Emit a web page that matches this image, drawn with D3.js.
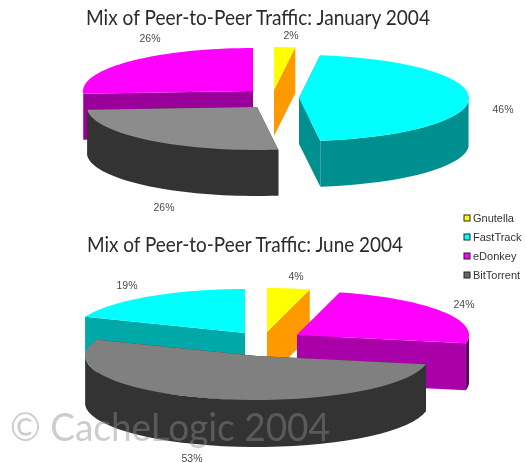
<!DOCTYPE html>
<html lang="en">
	<head>
		<meta charset="utf-8">
		<title>Mix of Peer-to-Peer Traffic</title>
		<script type="text/javascript" src="https://d3js.org/d3.v7.min.js"></script>
		<style type="text/css">
			html, body { margin:0; padding:0; background:#fff; }
			svg { display:block; filter:blur(0.4px); }
			.title { font-family:Lato, sans-serif; font-size:20.5px; fill:#2b2b2b; }
			.pct { font-family:"Liberation Sans", sans-serif; font-size:10.5px; fill:#4a4a4a; text-anchor:middle; }
			.legend text { font-family:"Liberation Sans", sans-serif; font-size:11px; fill:#333; }
			.mark { font-family:Lato, sans-serif; font-size:39px; fill:#8d8d8d; opacity:0.44; }
		</style>
	</head>
	<body>
		<svg id="chart"></svg>
		<script type="text/javascript">
			var w=526;
			var h=463;

			// data. slices run clockwise from 12 o'clock
			var legendNames=["Gnutella","FastTrack","eDonkey","BitTorrent"];
			var janNames=["Gnutella","FastTrack","BitTorrent","eDonkey"];
			var janValues=[2,46,26,26];
			var junNames=["Gnutella","eDonkey","BitTorrent","FastTrack"];
			var junValues=[4,24,53,19];

			var topColor=d3.scaleOrdinal()
				.domain(legendNames)
				.range(["#ffff00","#00ffff","#ff00ff","#8c8c8c"]);
			var legendColor=d3.scaleOrdinal()
				.domain(legendNames)
				.range(["#ffff00","#00ffff","#ff00ff","#666666"]);

			// layout of the two pies: each slice's apex, label spot and side colours
			var janPie={
				title:"Mix of Peer-to-Peer Traffic: January 2004", titleX:86, titleY:25, titleW:344,
				rx:170, ry:43, depth:46,
				names:janNames, values:janValues,
				drawOrder:["eDonkey","BitTorrent","Gnutella","FastTrack"],
				apex:{Gnutella:[274,90],FastTrack:[299,98],BitTorrent:[257,107],eDonkey:[253,91]},
				label:{Gnutella:[291,39],FastTrack:[503,113],BitTorrent:[164,211],eDonkey:[150,42]},
				cut:{Gnutella:"#ff9900",FastTrack:"#008f8f",BitTorrent:"#333333",eDonkey:"#990099"},
				rim:{Gnutella:"#ff9900",FastTrack:"#008f8f",BitTorrent:"#333333",eDonkey:"#990099"},
				top:{}
			};
			var junPie={
				title:"Mix of Peer-to-Peer Traffic: June 2004", titleX:87, titleY:252, titleW:316,
				rx:172, ry:44, depth:47,
				names:junNames, values:junValues,
				drawOrder:["FastTrack","Gnutella","eDonkey","BitTorrent"],
				apex:{Gnutella:[267,332],eDonkey:[297,335],BitTorrent:[257,356],FastTrack:[245,333]},
				label:{Gnutella:[296,280],eDonkey:[464,308],BitTorrent:[192,462],FastTrack:[127,289]},
				cut:{Gnutella:"#ff9900",eDonkey:"#aa00aa",BitTorrent:"#333333",FastTrack:"#00a8a8"},
				rim:{Gnutella:"#ff9900",eDonkey:"#5c005c",BitTorrent:"#333333",FastTrack:"#00a8a8"},
				top:{BitTorrent:"#808080"}
			};

			var svg=d3.select("#chart").attr("width",w).attr("height",h);

			var pieLayout=d3.pie().sort(null).value(d=>d.value);
			var pathLine=d3.line();

			var drawPie=function(cfg){
				var rows=cfg.names.map(function(n,i){return {name:n,value:cfg.values[i]};});
				var slices=pieLayout(rows);
				var byName={};
				slices.forEach(function(s){byName[s.data.name]=s;});

				var xScale=d3.scaleLinear().domain([-1,1]).range([-cfg.rx,cfg.rx]);
				var yScale=d3.scaleLinear().domain([-1,1]).range([cfg.ry,-cfg.ry]);

				var g=svg.append("g");

				cfg.drawOrder.forEach(function(name){
					var s=byName[name];
					var a=cfg.apex[name];
					// point on the rim at angle t, dropped by dz
					var rimPt=function(t,dz){
						return [a[0]+xScale(Math.sin(t)),a[1]+yScale(Math.cos(t))+dz];
					};
					var steps=d3.range(0,41).map(t=>s.startAngle+(s.endAngle-s.startAngle)*t/40);
					var arcTop=steps.map(t=>rimPt(t,0));

					// the two cut faces, only the ones facing us survive the top face
					[s.startAngle,s.endAngle].forEach(function(t){
						g.append("path")
							.attr("d",pathLine([a,rimPt(t,0),rimPt(t,cfg.depth),[a[0],a[1]+cfg.depth]])+"Z")
							.attr("fill",cfg.cut[name]);
					});

					// outer wall, front half only
					var front=steps.filter(t=>Math.cos(t)<=0);
					if(front.length>1){
						var wall=front.map(t=>rimPt(t,0)).concat(front.slice().reverse().map(t=>rimPt(t,cfg.depth)));
						g.append("path")
							.attr("d",pathLine(wall)+"Z")
							.attr("fill",cfg.rim[name]);
					}

					g.append("path")
						.attr("d",pathLine([a].concat(arcTop))+"Z")
						.attr("fill",cfg.top[name]||topColor(name));
				});

				svg.append("text")
					.attr("class","title")
					.attr("x",cfg.titleX)
					.attr("y",cfg.titleY)
					.attr("textLength",cfg.titleW)
					.attr("lengthAdjust","spacingAndGlyphs")
					.text(cfg.title);

				svg.selectAll(null)
					.data(slices)
					.enter()
					.append("text")
					.attr("class","pct")
					.attr("x",d=>cfg.label[d.data.name][0])
					.attr("y",d=>cfg.label[d.data.name][1])
					.text(d=>d.data.value+"%");
			};

			drawPie(janPie);
			drawPie(junPie);

			/////////  LEGEND  ////////////////////////////////////////////////////////

			var legendY=d3.scalePoint().domain(legendNames).range([218,275]);

			var legend=svg.append("g").attr("class","legend");

			legend.selectAll("rect")
				.data(legendNames)
				.enter()
				.append("rect")
				.attr("x",464)
				.attr("y",d=>legendY(d)-3)
				.attr("width",6)
				.attr("height",6)
				.attr("fill",d=>legendColor(d))
				.attr("stroke","#222")
				.attr("stroke-width",1);

			legend.selectAll("text")
				.data(legendNames)
				.enter()
				.append("text")
				.attr("x",473)
				.attr("y",d=>legendY(d)+4)
				.text(d=>d);

			/////////  WATERMARK  ////////////////////////////////////////////////////////

			svg.append("text")
				.attr("class","mark")
				.attr("x",10)
				.attr("y",441)
				.attr("textLength",320)
				.attr("lengthAdjust","spacingAndGlyphs")
				.text("\u00a9 CacheLogic 2004");
		</script>
	</body>
</html>
